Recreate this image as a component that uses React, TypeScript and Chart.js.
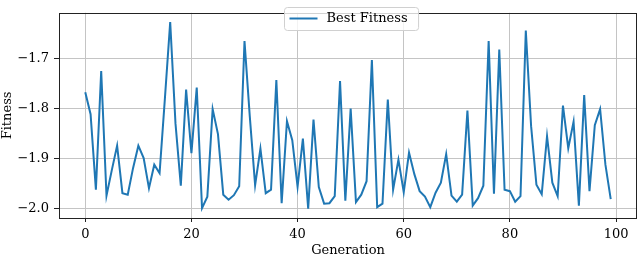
import React, { useEffect, useRef } from "react";
import { Chart, registerables } from "chart.js";

Chart.register(...registerables);

const seriesLabel = "Best Fitness";
const xTitle = "Generation";
const yTitle = "Fitness";
const xTickValues = [0, 20, 40, 60, 80, 100];
const yTickValues = [-2.0, -1.9, -1.8, -1.7];

const bestFitness = [
  -1.767, -1.811, -1.962, -1.725, -1.974, -1.923, -1.874, -1.969, -1.972, -1.919,
  -1.874, -1.899, -1.959, -1.912, -1.929, -1.780, -1.627, -1.830, -1.954, -1.762,
  -1.889, -1.758, -1.999, -1.976, -1.801, -1.851, -1.972, -1.982, -1.973, -1.955,
  -1.665, -1.816, -1.953, -1.880, -1.969, -1.962, -1.743, -1.989, -1.825, -1.863,
  -1.956, -1.860, -2.000, -1.822, -1.957, -1.990, -1.989, -1.975, -1.745, -1.984,
  -1.800, -1.987, -1.972, -1.945, -1.703, -1.997, -1.990, -1.782, -1.962, -1.902,
  -1.967, -1.888, -1.931, -1.965, -1.976, -1.997, -1.968, -1.948, -1.891, -1.974,
  -1.986, -1.972, -1.804, -1.994, -1.979, -1.954, -1.665, -1.970, -1.682, -1.962,
  -1.965, -1.986, -1.975, -1.644, -1.835, -1.952, -1.971, -1.855, -1.948, -1.975,
  -1.794, -1.879, -1.826, -1.994, -1.773, -1.965, -1.833, -1.801, -1.912, -1.981,
];

const FONT = "'DejaVu Serif', serif";
const LINE_COLOR = "#1f77b4";

const framePlugin = {
  id: "frame",
  afterDatasetsDraw(chart: any) {
    const { ctx, chartArea: a } = chart;
    ctx.save();
    ctx.strokeStyle = "#222";
    ctx.lineWidth = 1;
    ctx.strokeRect(Math.round(a.left) + 0.5, Math.round(a.top) + 0.5, Math.round(a.right - a.left) - 1, Math.round(a.bottom - a.top));
    ctx.restore();
  },
};

const legendPlugin = {
  id: "mplLegend",
  afterDraw(chart: any) {
    const { ctx } = chart;
    const label = chart.data.datasets[0].label as string;
    ctx.save();
    ctx.font = `13px ${FONT}`;
    const tw = ctx.measureText(label).width;
    const x = 284.5, y = 7.5, h = 23;
    const w = 10 + 28 + 9 + tw + 6;
    const r = 3;
    ctx.beginPath();
    ctx.moveTo(x + r, y);
    ctx.lineTo(x + w - r, y);
    ctx.arcTo(x + w, y, x + w, y + r, r);
    ctx.lineTo(x + w, y + h - r);
    ctx.arcTo(x + w, y + h, x + w - r, y + h, r);
    ctx.lineTo(x + r, y + h);
    ctx.arcTo(x, y + h, x, y + h - r, r);
    ctx.lineTo(x, y + r);
    ctx.arcTo(x, y, x + r, y, r);
    ctx.closePath();
    ctx.fillStyle = "rgba(255,255,255,0.8)";
    ctx.fill();
    ctx.strokeStyle = "#d0d0d0";
    ctx.lineWidth = 1;
    ctx.stroke();
    ctx.strokeStyle = LINE_COLOR;
    ctx.lineWidth = 2;
    ctx.beginPath();
    ctx.moveTo(x + 5, 18.5);
    ctx.lineTo(x + 33, 18.5);
    ctx.stroke();
    ctx.fillStyle = "#000";
    ctx.textBaseline = "middle";
    ctx.textAlign = "left";
    ctx.fillText(label, x + 42, 19);
    ctx.restore();
  },
};

export default function App() {
  const ref = useRef<HTMLCanvasElement>(null);

  useEffect(() => {
    if (!ref.current) return;
    Chart.defaults.font.family = FONT;
    const points = bestFitness.map((v, i) => ({ x: i, y: v }));
    const n = bestFitness.length - 1;
    const xPad = n * 0.05;
    const yMin = Math.min(...bestFitness);
    const yMax = Math.max(...bestFitness);
    const yPad = (yMax - yMin) * 0.05;

    const chart = new Chart(ref.current, {
      type: "line",
      data: {
        datasets: [
          {
            label: seriesLabel,
            data: points,
            borderColor: LINE_COLOR,
            backgroundColor: LINE_COLOR,
            borderWidth: 2,
            pointRadius: 0,
            tension: 0,
            fill: false,
          },
        ],
      },
      options: {
        responsive: false,
        animation: false,
        layout: { padding: { top: 1, right: 3, left: 0, bottom: 0 } },
        plugins: { legend: { display: false }, tooltip: { enabled: false } },
        scales: {
          x: {
            type: "linear",
            min: -xPad,
            max: n + xPad,
            afterBuildTicks: (s: any) => {
              s.ticks = xTickValues.map((v) => ({ value: v }));
            },
            afterFit: (s: any) => {
              s.height = 39;
            },
            ticks: {
              font: { size: 13, family: FONT },
              color: "#000",
              padding: 5,
              maxRotation: 0,
              autoSkip: false,
              callback: (v: any) => String(v),
            },
            grid: {
              color: "#c4c4c4",
              lineWidth: 1,
              tickLength: 4,
              tickColor: "#222",
              tickWidth: 1,
            },
            border: { display: false },
            title: {
              display: true,
              text: xTitle,
              color: "#000",
              font: { size: 13, family: FONT, lineHeight: 1.0 },
              padding: { top: 0, bottom: 0 },
            },
          },
          y: {
            type: "linear",
            min: yMin - yPad,
            max: yMax + yPad,
            afterBuildTicks: (s: any) => {
              s.ticks = yTickValues.map((v) => ({ value: v }));
            },
            afterFit: (s: any) => {
              s.width = 59;
            },
            ticks: {
              font: { size: 13, family: FONT },
              color: "#000",
              padding: 5,
              autoSkip: false,
              callback: (v: any) => (v < 0 ? "\u2212" : "") + Math.abs(Number(v)).toFixed(1),
            },
            grid: {
              color: "#c4c4c4",
              lineWidth: 1,
              tickLength: 5,
              tickColor: "#222",
              tickWidth: 1,
            },
            border: { display: false },
            title: {
              display: true,
              text: yTitle,
              color: "#000",
              font: { size: 13, family: FONT },
              padding: { top: 0, bottom: 0 },
            },
          },
        },
      },
      plugins: [framePlugin, legendPlugin],
    });
    return () => chart.destroy();
  }, []);

  return (
    <div style={{ position: "absolute", left: 0, top: 0, width: 640, height: 257, background: "#fff" }}>
      <canvas ref={ref} width={640} height={257} style={{ display: "block" }} />
    </div>
  );
}
